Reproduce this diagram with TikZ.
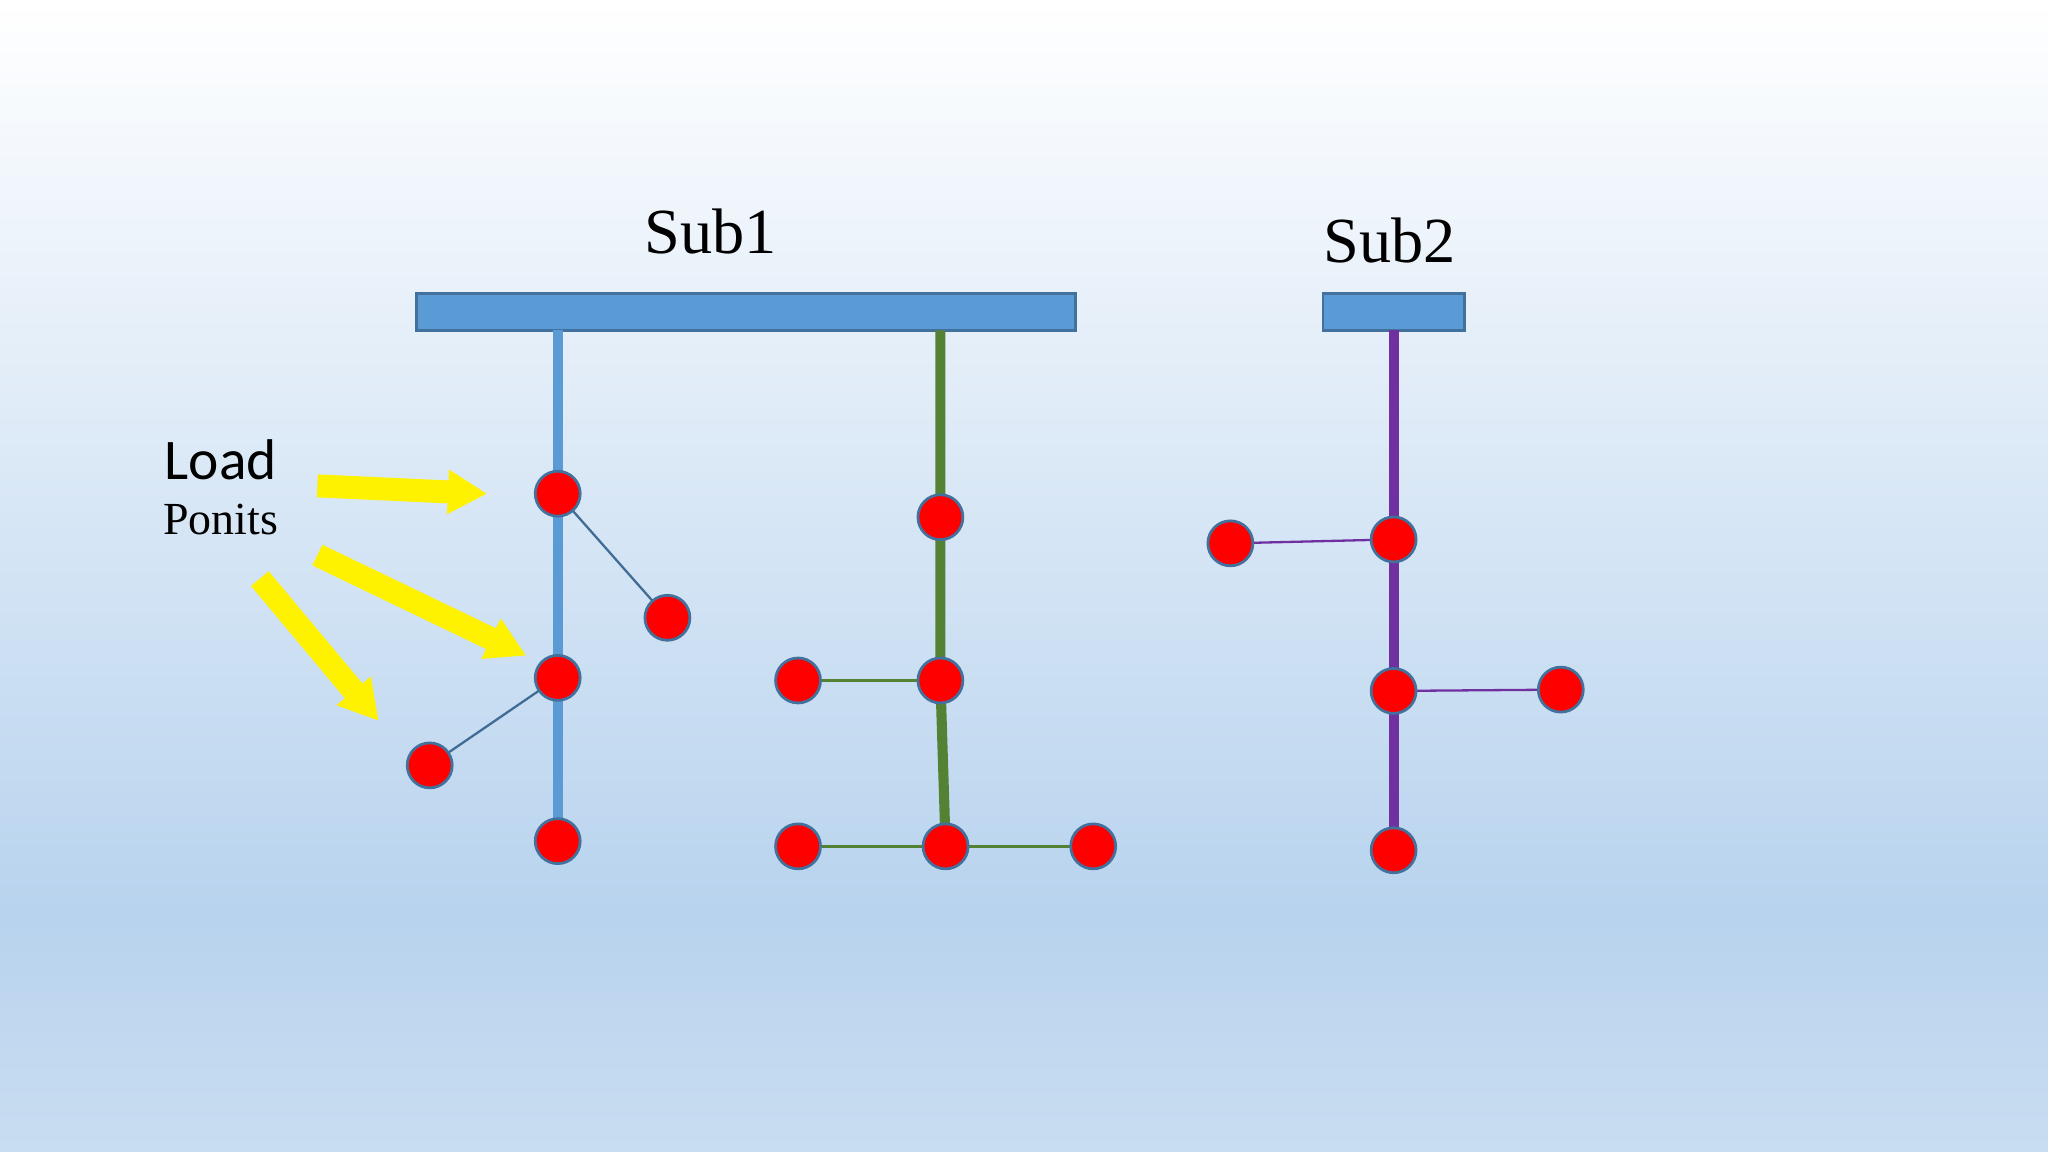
\documentclass[tikz,border=0pt]{standalone}
\usepackage{fontspec}
\setmainfont{Liberation Serif}
\newfontfamily\carlitofont{Carlito}
\usetikzlibrary{arrows.meta}
\definecolor{barblue}{HTML}{5B9BD5}
\definecolor{barborder}{HTML}{41719C}
\definecolor{lblue}{HTML}{5B9BD5}
\definecolor{lgreen}{HTML}{548235}
\definecolor{lpurple}{HTML}{7030A0}
\definecolor{bgmid}{HTML}{B8D3EE}
\definecolor{bgbot}{HTML}{C9DDF1}
\begin{document}
\begin{tikzpicture}[x=0.01cm,y=-0.01cm,
  load/.style={circle,minimum size=0.344cm,inner sep=0pt},
  bar/.style={fill=barblue,draw=barborder,line width=0.6pt},
  feeder/.style={line width=2.2pt},
  branch/.style={line width=0.5pt},
  yarrow/.style={draw=yellow,line width=5pt,-{Triangle[length=0.3cm,width=0.32cm]}}]
\useasboundingbox (0,0) rectangle (1568,882);
\shade[top color=white,bottom color=bgmid] (0,0) rectangle (1568,700);
\shade[top color=bgmid,bottom color=bgbot] (0,700) rectangle (1568,882);
% bars
\node[bar,minimum width=5.04cm,minimum height=0.28cm,inner sep=0pt] (sub1) at (571,239) {};
\node[bar,minimum width=1.08cm,minimum height=0.28cm,inner sep=0pt] (sub2) at (1067,239) {};
\node (t1) at (544,177) {\fontsize{14}{16}\selectfont Sub1};
\node (t2) at (1064,184) {\fontsize{14}{16}\selectfont Sub2};
\node[align=center] (lp) at (169,373) {\carlitofont\fontsize{12.5}{15.5}\selectfont Load\\Ponits};
\coordinate (b0) at (427,253);
\coordinate (g0) at (720,253);
\coordinate (p0) at (1067,253);
\node[load] (b1) at (427,378) {};
\node[load] (b2) at (511,473) {};
\node[load] (b3) at (427,519) {};
\node[load] (b4) at (329,586) {};
\node[load] (b5) at (427,644) {};
\node[load] (g1) at (720,396) {};
\node[load] (g2) at (720,521) {};
\node[load] (g3) at (611,521) {};
\node[load] (g4) at (724,648) {};
\node[load] (g5) at (611,648) {};
\node[load] (g6) at (837,648) {};
\node[load] (p1) at (1067,413) {};
\node[load] (p2) at (942,416) {};
\node[load] (p3) at (1067,529) {};
\node[load] (p4) at (1195,528) {};
\node[load] (p5) at (1067,651) {};
\draw[feeder,lblue] (b0) -- (b1.center) -- (b3.center) -- (b5.center);
\draw[branch,lblue!70!black] (b1.center) -- (b2.center);
\draw[branch,lblue!70!black] (b3.center) -- (b4.center);
\draw[feeder,lgreen] (g0) -- (g1.center) -- (g2.center) -- (g4.center);
\draw[branch,lgreen] (g2.center) -- (g3.center);
\draw[branch,lgreen] (g4.center) -- (g5.center);
\draw[branch,lgreen] (g4.center) -- (g6.center);
\draw[feeder,lpurple] (p0) -- (p1.center) -- (p3.center) -- (p5.center);
\draw[branch,lpurple] (p1.center) -- (p2.center);
\draw[branch,lpurple] (p3.center) -- (p4.center);
\foreach \n in {b1,b2,b3,b4,b5,g1,g2,g3,g4,g5,g6,p1,p2,p3,p4,p5}
  \filldraw[fill=red,draw=barborder,line width=0.6pt] (\n.center) circle (0.172cm);
\coordinate (a1) at (243,372); \coordinate (a1e) at (373,378);
\coordinate (a2) at (243,425); \coordinate (a2e) at (403,502);
\coordinate (a3) at (199,443); \coordinate (a3e) at (290,552);
\draw[yarrow] (a1) -- (a1e);
\draw[yarrow] (a2) -- (a2e);
\draw[yarrow] (a3) -- (a3e);
\end{tikzpicture}
\end{document}
